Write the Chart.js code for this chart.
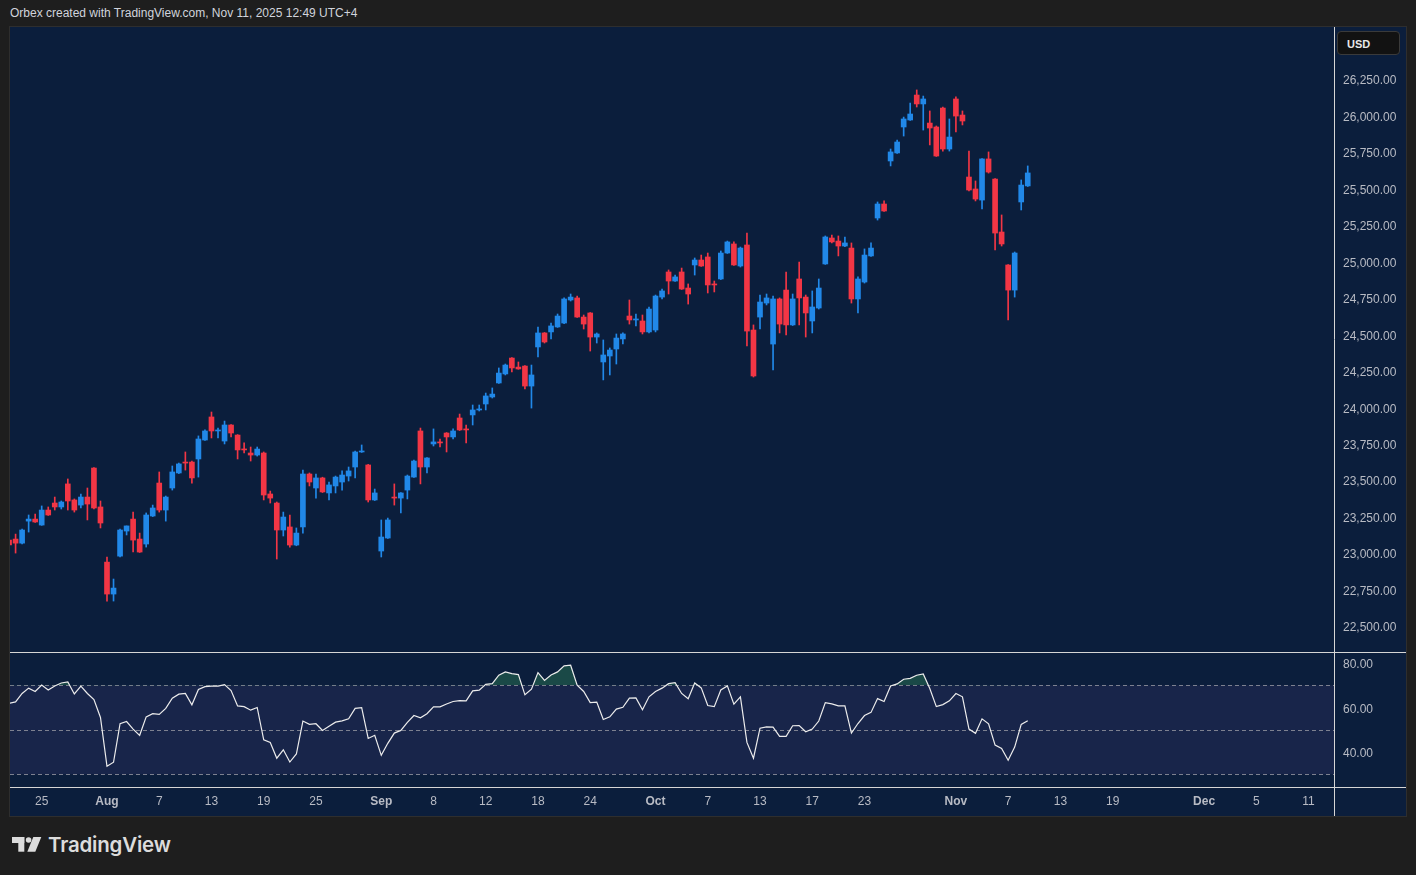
<!DOCTYPE html>
<html>
<head>
<meta charset="utf-8">
<script src="https://cdn.jsdelivr.net/npm/chart.js@4.4.1/dist/chart.umd.min.js"></script>
<style>
  html, body { margin: 0; padding: 0; background: #1e1e1e; width: 1416px; height: 875px; overflow: hidden; }
  #hdr { position: absolute; left: 10px; top: 6px; font: 12px "Liberation Sans", Arial, sans-serif; color: #d1d4dc; white-space: nowrap; }
  #panel { position: absolute; left: 9px; top: 26px; width: 1396px; height: 789px; border: 1px solid #2e2e2e; background: #0b1e3c; }
  #priceBox { position: absolute; left: 10px; top: 27px; width: 1396px; height: 625px; }
  #rsiBox { position: absolute; left: 10px; top: 652px; width: 1396px; height: 164px; }
  #usd { position: absolute; left: 1337px; top: 31px; width: 63px; height: 24px; background: #121212; border: 1px solid #3a3a3a; border-radius: 4px;
         font: bold 11px "Liberation Sans", Arial, sans-serif; color: #e8e8e8; line-height: 24px; padding-left: 9px; box-sizing: border-box; }
  #logo { position: absolute; left: 0; top: 830px; }
  #brand { position: absolute; left: 48px; top: 832px; font: 600 20.5px Inter, "Noto Sans", sans-serif; color: #dcdcdc; letter-spacing: -0.2px; }
</style>
</head>
<body>
<div id="hdr">Orbex created with TradingView.com, Nov 11, 2025 12:49 UTC+4</div>
<div id="panel"></div>
<div id="priceBox"><canvas id="priceChart"></canvas></div>
<div id="rsiBox"><canvas id="rsiChart"></canvas></div>
<div id="usd">USD</div>
<svg id="logo" width="50" height="30" viewBox="0 830 50 30">
  <rect x="12" y="837" width="12.3" height="6" fill="#dcdcdc"/>
  <rect x="18.3" y="837" width="6" height="14.7" fill="#dcdcdc"/>
  <circle cx="28.6" cy="840" r="2.8" fill="#dcdcdc"/>
  <polygon points="33.3,837 41.3,837 35.3,851.7 27.3,851.7" fill="#dcdcdc"/>
</svg>
<div id="brand">TradingView</div>
<script>
// Dữ liệu nến (chỉ số nến đầu tiên = -1, nến bị cắt ở mép trái)
const firstBar = -1;
const openV = [23089,23096,23068,23219,23233,23192,23295,23343,23316,23474,23364,23329,23384,23583,23316,22938,22719,22979,23151,23233,
  23096,23062,23254,23480,23295,23446,23549,23624,23624,23645,23775,23933,23837,23768,23878,23809,23713,23686,23672,23686,
  23405,23343,23158,23179,23055,23179,23542,23446,23515,23412,23460,23487,23528,23590,23693,23604,23364,23014,23103,23384,
  23377,23432,23521,23837,23590,23748,23762,23823,23796,23926,23851,23947,23981,24022,24070,24166,24228,24337,24275,24282,
  24145,24413,24509,24516,24550,24577,24735,24749,24618,24646,24481,24310,24351,24399,24468,24625,24598,24591,24516,24529,
  24755,24927,24865,24927,24817,24975,25009,25030,24845,24879,25057,25119,24968,25112,24529,24618,24714,24433,24742,24803,
  24564,24879,24755,24591,24680,24982,25160,25139,25105,25091,24742,24858,25037,25297,25393,25688,25743,25921,25969,26140,
  26079,25948,25921,26051,25770,26113,26003,25578,25496,25420,25702,25564,25201,24975,24803,25407,25517];
const highV = [23110,23130,23165,23261,23268,23323,23316,23384,23357,23508,23371,23405,23446,23586,23357,22973,22822,23165,23186,23281,
  23137,23275,23329,23556,23391,23597,23617,23693,23631,23803,23844,23967,23857,23905,23881,23812,23755,23727,23727,23693,
  23425,23350,23281,23261,23172,23569,23549,23542,23520,23487,23528,23563,23590,23700,23741,23608,23439,23227,23240,23474,
  23415,23535,23638,23857,23655,23851,23782,23826,23851,23953,23878,24015,24015,24097,24132,24269,24296,24340,24310,24285,
  24289,24550,24512,24577,24639,24749,24776,24762,24632,24649,24509,24461,24406,24502,24509,24735,24639,24632,24687,24769,
  24810,24941,24906,24954,24845,25023,25043,25057,24865,25071,25139,25133,25098,25194,24564,24769,24776,24762,24749,24927,
  24776,24995,24769,24797,24879,25174,25180,25174,25167,25126,24893,25085,25126,25407,25414,25770,25832,25989,26085,26175,
  26133,26031,25928,26058,25976,26127,26031,25756,25551,25705,25750,25568,25318,24978,25064,25558,25654];
const lowV = [23034,23000,23062,23144,23210,23190,23258,23295,23302,23295,23281,23309,23227,23302,23172,22671,22671,22973,23124,23007,
  23004,23041,23250,23281,23219,23432,23545,23569,23480,23521,23772,23789,23789,23748,23796,23645,23686,23631,23665,23364,
  23343,22959,23117,23041,23050,23137,23460,23377,23415,23364,23412,23432,23494,23515,23690,23350,23360,22973,23100,23329,
  23275,23371,23518,23474,23549,23734,23727,23693,23782,23840,23755,23878,23974,23981,24063,24163,24221,24241,24260,24125,
  23994,24344,24440,24468,24547,24573,24728,24615,24536,24385,24440,24187,24221,24296,24433,24570,24557,24502,24509,24516,
  24742,24776,24862,24807,24707,24906,24965,24783,24790,24875,25054,24972,24961,24420,24207,24536,24701,24255,24509,24495,
  24560,24564,24481,24509,24673,24979,25126,25037,25100,24714,24646,24851,25034,25283,25342,25654,25740,25859,25966,26058,
  25900,25798,25719,25756,25756,25887,25935,25482,25414,25359,25605,25078,25105,24598,24755,25352,25513];
const closeV = [23055,23068,23158,23233,23213,23295,23261,23316,23350,23357,23295,23384,23336,23309,23206,22719,22760,23158,23186,23089,
  23007,23261,23309,23295,23384,23556,23611,23617,23515,23782,23837,23837,23844,23878,23823,23707,23707,23672,23713,23398,
  23377,23158,23247,23055,23137,23542,23487,23515,23419,23467,23521,23535,23563,23693,23700,23364,23412,23110,23227,23377,
  23412,23528,23631,23590,23652,23762,23755,23796,23837,23844,23844,23981,23988,24077,24090,24234,24289,24269,24262,24145,
  24221,24509,24447,24557,24625,24742,24755,24618,24570,24481,24502,24358,24392,24474,24502,24598,24605,24516,24673,24762,
  24797,24865,24893,24810,24776,25009,24968,24838,24838,25057,25133,24975,25091,24522,24214,24721,24749,24742,24570,24564,
  24742,24749,24646,24687,24817,25167,25133,25105,25126,24742,24879,25043,25091,25393,25345,25750,25818,25976,26010,26079,
  26113,25914,25722,25770,25852,25996,25962,25489,25427,25702,25612,25194,25119,24803,25057,25523,25606];
// RSI(14) cho từng nến
const rsiV = [61.9,62.5,66.3,68.7,67.2,70.1,67.9,69.7,71.0,71.5,66.1,69.6,66.3,63.6,55.5,33.6,35.4,52.7,53.7,50.3,
  47.5,55.8,57.2,56.9,59.6,64.2,66.0,66.3,61.2,68.1,69.4,69.6,69.6,70.3,67.6,60.7,60.4,58.8,60.0,45.5,
  44.3,37.2,41.0,35.5,39.1,53.9,52.4,52.7,49.7,51.6,53.4,54.0,54.9,59.6,59.9,46.1,47.5,38.5,43.9,48.5,
  49.7,53.3,56.4,55.4,57.2,60.3,60.3,61.6,62.7,63.1,63.0,67.5,67.8,70.4,70.7,74.5,76.0,75.2,74.8,65.7,
  68.2,75.7,72.2,74.6,76.0,78.7,79.0,70.0,67.2,62.2,62.4,54.6,55.8,59.3,60.1,64.2,64.3,59.0,64.8,67.2,
  68.7,70.7,71.2,66.3,63.9,71.0,68.8,60.9,60.4,67.9,69.7,61.5,64.8,44.3,37.2,50.7,51.3,51.2,47.0,47.0,
  51.8,51.9,49.1,50.3,53.9,62.2,61.6,60.7,60.7,48.5,52.8,56.4,57.8,64.0,62.7,69.7,70.6,72.7,73.1,74.5,
  75.1,68.5,60.4,61.3,63.0,66.3,64.8,50.3,48.4,54.9,52.7,43.1,41.6,36.3,42.2,52.4,54.0];

const priceTicks = [22500, 22750, 23000, 23250, 23500, 23750, 24000, 24250, 24500, 24750, 25000, 25250, 25500, 25750, 26000, 26250];
const rsiTicks = [40, 60, 80];
const rsiLevels = [70, 50, 30];
const xTickIdx = [4, 14, 22, 30, 38, 46, 56, 64, 72, 80, 88, 98, 106, 114, 122, 130, 144, 152, 160, 168, 182, 190, 198];
const xTickLbl = ['25', 'Aug', '7', '13', '19', '25', 'Sep', '8', '12', '18', '24', 'Oct', '7', '13', '17', '23', 'Nov', '7', '13', '19', 'Dec', '5', '11'];
const monthLbl = ['Aug', 'Sep', 'Oct', 'Nov', 'Dec'];

const BLUE = '#2188e8';
const RED = '#f23645';
const AXIS_TXT = '#b8bbc4';
const X_MIN = -0.854, X_MAX = 201.9;

const barIdx = openV.map((_, k) => k + firstBar);
const candleColor = closeV.map((c, k) => c >= openV[k] ? BLUE : RED);

// Kẻ đường viền trắng giữa các vùng
const frameLines = {
    id: 'frameLines',
    afterDraw(chart, args, opts) {
        const { ctx, chartArea: a, width, height } = chart;
        ctx.save();
        ctx.strokeStyle = '#d6d6d6';
        ctx.lineWidth = 1;
        ctx.beginPath();
        const xr = Math.round(a.right) + 0.5;
        ctx.moveTo(xr, 0); ctx.lineTo(xr, height);
        if (opts.rsi) {
            ctx.moveTo(0, 0.5); ctx.lineTo(width, 0.5);
            const yb = Math.round(a.bottom) + 0.5;
            ctx.moveTo(0, yb); ctx.lineTo(width, yb);
        }
        ctx.stroke();
        ctx.restore();
    }
};

// Vùng nền 30-70 và các đường nét đứt của RSI
const rsiBand = {
    id: 'rsiBand',
    beforeDatasetsDraw(chart) {
        const { ctx, chartArea: a, scales } = chart;
        const y70 = scales.y.getPixelForValue(70);
        const y30 = scales.y.getPixelForValue(30);
        ctx.save();
        ctx.fillStyle = '#18254a';
        ctx.fillRect(a.left, y70, a.right - a.left, y30 - y70);
        ctx.strokeStyle = '#7d8190';
        ctx.lineWidth = 1;
        ctx.setLineDash([4, 3]);
        rsiLevels.forEach(v => {
            const y = Math.round(scales.y.getPixelForValue(v)) + 0.5;
            ctx.beginPath();
            ctx.moveTo(a.left, y); ctx.lineTo(a.right, y);
            ctx.stroke();
        });
        ctx.restore();
    }
};

const noPad = (scale) => { scale.paddingTop = 0; scale.paddingBottom = 0; scale.paddingLeft = 0; scale.paddingRight = 0; };

// Biểu đồ nến giá
const priceCtx = document.getElementById('priceChart').getContext('2d');
const priceChart = new Chart(priceCtx, {
    type: 'bar',
    data: {
        datasets: [{
            label: 'wick',
            data: barIdx.map((x, k) => ({ x: x, y: [lowV[k], highV[k]] })),
            backgroundColor: candleColor,
            barThickness: 1,
            grouped: false,
            order: 2
        }, {
            label: 'body',
            data: barIdx.map((x, k) => ({ x: x, y: [openV[k], closeV[k]] })),
            backgroundColor: candleColor,
            barThickness: 5,
            minBarLength: 1,
            grouped: false,
            order: 1
        }]
    },
    options: {
        responsive: true,
        maintainAspectRatio: false,
        animation: false,
        layout: { padding: 0 },
        plugins: { legend: { display: false }, tooltip: { enabled: false }, frameLines: { rsi: false } },
        scales: {
            x: {
                type: 'linear', min: X_MIN, max: X_MAX, offset: false, display: false
            },
            y: {
                position: 'right',
                min: 22321.7, max: 26606.5,
                grid: { display: false },
                border: { display: false },
                afterBuildTicks: (axis) => { axis.ticks = priceTicks.map(v => ({ value: v })); },
                afterFit: (scale) => { scale.width = 72; noPad(scale); },
                ticks: {
                    color: AXIS_TXT,
                    padding: 1,
                    labelOffset: 2,
                    font: { family: '"Liberation Sans", Arial, sans-serif', size: 12 },
                    callback: (v) => v.toLocaleString('en-US', { minimumFractionDigits: 2, maximumFractionDigits: 2 })
                }
            }
        }
    },
    plugins: [frameLines]
});

// Biểu đồ RSI và trục thời gian
const rsiCtx = document.getElementById('rsiChart').getContext('2d');
const rsiChart = new Chart(rsiCtx, {
    type: 'line',
    data: {
        datasets: [{
            label: 'RSI',
            data: barIdx.map((x, k) => ({ x: x, y: rsiV[k] })),
            borderColor: '#ececec',
            borderWidth: 1.2,
            pointRadius: 0,
            tension: 0,
            fill: { target: { value: 70 }, above: 'rgba(40, 110, 80, 0.55)', below: 'rgba(0, 0, 0, 0)' }
        }]
    },
    options: {
        responsive: true,
        maintainAspectRatio: false,
        animation: false,
        layout: { padding: 0 },
        plugins: { legend: { display: false }, tooltip: { enabled: false }, frameLines: { rsi: true } },
        scales: {
            x: {
                type: 'linear', min: X_MIN, max: X_MAX, offset: false,
                grid: { display: false, drawTicks: false },
                border: { display: false },
                afterBuildTicks: (axis) => { axis.ticks = xTickIdx.map(v => ({ value: v })); },
                afterFit: (scale) => { scale.height = 29; noPad(scale); },
                ticks: {
                    color: AXIS_TXT,
                    padding: 7,
                    autoSkip: false,
                    maxRotation: 0,
                    font: (c) => ({
                        family: '"Liberation Sans", Arial, sans-serif', size: 12,
                        weight: (c.tick && monthLbl.includes(xTickLbl[xTickIdx.indexOf(c.tick.value)])) ? 'bold' : 'normal'
                    }),
                    callback: (v) => xTickLbl[xTickIdx.indexOf(v)]
                }
            },
            y: {
                position: 'right',
                min: 24.27, max: 84.94,
                grid: { display: false },
                border: { display: false },
                afterBuildTicks: (axis) => { axis.ticks = rsiTicks.map(v => ({ value: v })); },
                afterFit: (scale) => { scale.width = 72; noPad(scale); },
                ticks: {
                    color: AXIS_TXT,
                    padding: 1,
                    labelOffset: 2,
                    font: { family: '"Liberation Sans", Arial, sans-serif', size: 12 },
                    callback: (v) => v.toFixed(2)
                }
            }
        }
    },
    plugins: [rsiBand, frameLines]
});
</script>
</body>
</html>
